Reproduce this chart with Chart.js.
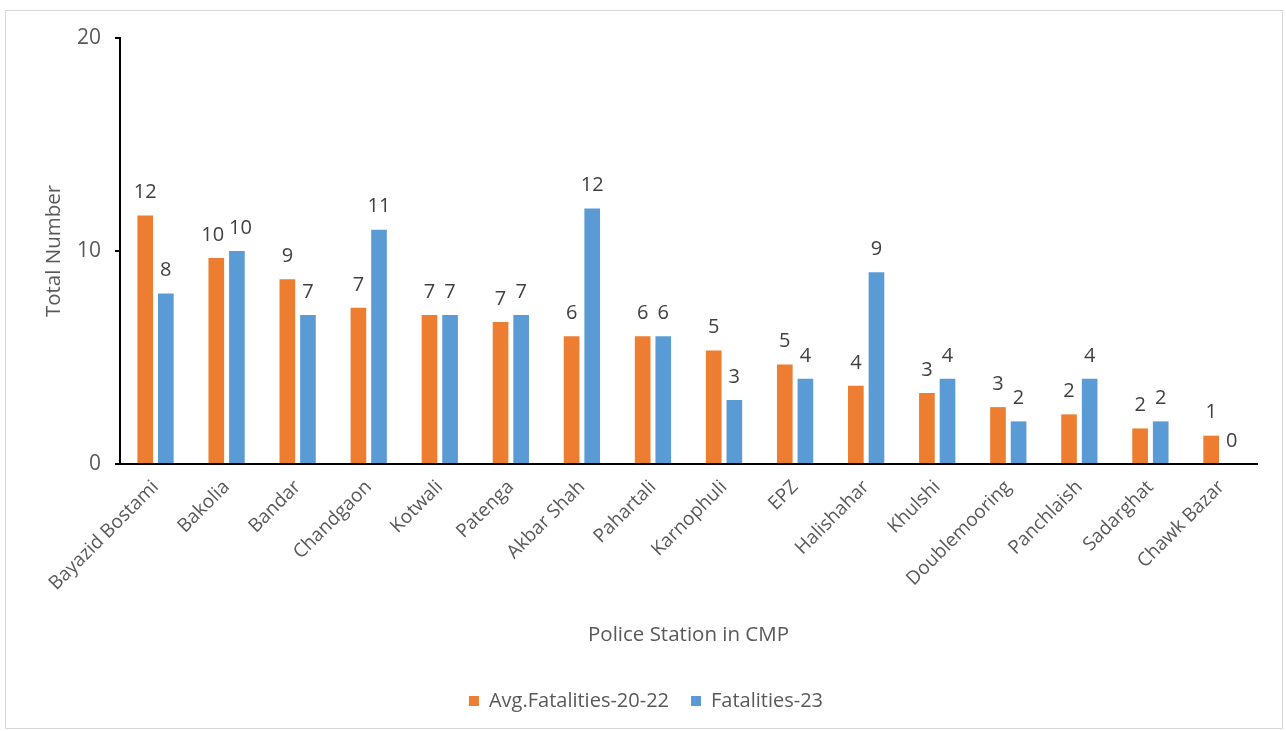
<!DOCTYPE html>
<html>
<head>
<meta charset="utf-8">
<script src="https://cdn.jsdelivr.net/npm/chart.js@4"></script>
<style>
    html, body { margin: 0; padding: 0; background: #fff; }
    #wrap { position: relative; width: 1286px; height: 731px; }
    #frame {
        position: absolute; left: 5px; top: 10px; width: 1276px; height: 717px;
        border: 1px solid #d6d6d6; pointer-events: none;
    }
</style>
</head>
<body>
<div id="wrap">
    <canvas id="stationChart" width="1286" height="731"></canvas>
    <div id="frame"></div>
</div>
<script>
// ============================ data ==============================
const stations = ['Bayazid Bostami', 'Bakolia', 'Bandar', 'Chandgaon', 'Kotwali', 'Patenga',
    'Akbar Shah', 'Pahartali', 'Karnophuli', 'EPZ', 'Halishahar', 'Khulshi',
    'Doublemooring', 'Panchlaish', 'Sadarghat', 'Chawk Bazar'];
// 3-year average (2020-22), labels show it rounded
const avgFatalities = [11.67, 9.67, 8.67, 7.33, 7, 6.67, 6, 6, 5.33, 4.67, 3.67, 3.33, 2.67, 2.33, 1.67, 1.33];
const fatalities23 = [8, 10, 7, 11, 7, 7, 12, 6, 3, 4, 9, 4, 2, 4, 2, 0];
const yTicks = [0, 10, 20];

const FONT = '"Open Sans", Lato, sans-serif';
const ORANGE = '#ED7D31';
const BLUE = '#5B9BD5';

// ============================ value labels ==============================
// number above each bar; the pair in one category is pushed apart if they collide
const barValueLabels = {
    id: 'barValueLabels',
    afterDatasetsDraw(chart) {
        const ctx = chart.ctx;
        const fontSize = 20;
        ctx.save();
        ctx.font = fontSize + 'px ' + FONT;
        ctx.fillStyle = '#404040';
        ctx.textAlign = 'center';
        ctx.textBaseline = 'middle';
        const metaA = chart.getDatasetMeta(0).data;
        const metaB = chart.getDatasetMeta(1).data;
        const dsA = chart.data.datasets[0].data;
        const dsB = chart.data.datasets[1].data;
        metaA.forEach((barA, j) => {
            const barB = metaB[j];
            const tA = String(Math.round(dsA[j]));
            const tB = String(Math.round(dsB[j]));
            let xA = barA.x, xB = barB.x;
            const yA = barA.y - 23, yB = barB.y - 23;
            if (Math.abs(yA - yB) < fontSize) {
                const wA = ctx.measureText(tA).width;
                const wB = ctx.measureText(tB).width;
                const overlap = (xA + wA / 2 + 5) - (xB - wB / 2);
                if (overlap > 0) {
                    xA -= overlap / 2;
                    xB += overlap / 2;
                }
            }
            ctx.fillText(tA, xA, yA);
            ctx.fillText(tB, xB, yB);
        });
        ctx.restore();
    }
};

// ============================ chart ==============================
document.addEventListener('DOMContentLoaded', function () {
    const ctx = document.getElementById('stationChart').getContext('2d');
    new Chart(ctx, {
        type: 'bar',
        data: {
            labels: stations,
            datasets: [
                {
                    label: 'Avg.Fatalities-20-22',
                    data: avgFatalities,
                    backgroundColor: ORANGE,
                    categoryPercentage: 0.58,
                    barPercentage: 0.76
                },
                {
                    label: 'Fatalities-23',
                    data: fatalities23,
                    backgroundColor: BLUE,
                    categoryPercentage: 0.58,
                    barPercentage: 0.76
                }
            ]
        },
        plugins: [barValueLabels],
        options: {
            responsive: false,
            animation: false,
            layout: {
                padding: {top: 38, left: 35, right: 29, bottom: 10}
            },
            plugins: {
                legend: {
                    position: 'bottom',
                    labels: {
                        font: {size: 20, family: FONT},
                        color: '#595959',
                        boxWidth: 10,
                        boxHeight: 10,
                        padding: 22
                    }
                },
                tooltip: {enabled: false}
            },
            scales: {
                x: {
                    afterFit: function (scale) { scale.height = 205; },
                    grid: {display: false},
                    border: {color: '#000', width: 2},
                    ticks: {
                        minRotation: 45,
                        maxRotation: 45,
                        autoSkip: false,
                        padding: 4,
                        color: '#595959',
                        font: {size: 19, family: FONT}
                    },
                    title: {
                        display: true,
                        text: 'Police Station in CMP',
                        color: '#595959',
                        font: {size: 20.5, family: FONT},
                        padding: {top: 4, bottom: 22}
                    }
                },
                y: {
                    min: 0,
                    max: 20,
                    afterFit: function (scale) { scale.width = 85; },
                    afterBuildTicks: function (scale) {
                        scale.ticks = yTicks.map(v => ({value: v}));
                    },
                    grid: {
                        display: true,
                        drawOnChartArea: false,
                        drawTicks: true,
                        tickLength: 5,
                        color: '#000',
                        lineWidth: 2
                    },
                    border: {color: '#000', width: 2},
                    ticks: {
                        padding: 14,
                        color: '#595959',
                        font: {size: 21, family: FONT}
                    },
                    title: {
                        display: true,
                        text: 'Total Number',
                        color: '#595959',
                        font: {size: 20.5, family: FONT},
                        padding: {top: 7, bottom: 4}
                    }
                }
            }
        }
    });
});
</script>
</body>
</html>
